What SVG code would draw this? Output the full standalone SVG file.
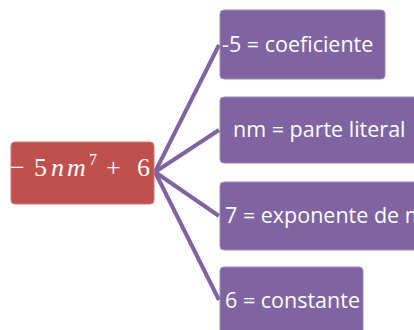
<svg xmlns="http://www.w3.org/2000/svg" width="414" height="330" viewBox="0 0 414 330">
<style>
.p{fill:#8064A2;stroke:#9D88B9;stroke-width:1}
.t{fill:#fff;font-family:"Open Sans","Liberation Sans",sans-serif;font-size:21.5px}
.c{stroke:#8064A2;stroke-width:4;fill:none;stroke-linecap:butt}
.m{fill:#fff;font-family:"Liberation Serif","DejaVu Serif",serif;font-size:26px}
</style>
<rect width="414" height="330" fill="#fff"/>
<g id="connectors">
<line class="c" x1="155" y1="172" x2="219" y2="45"/>
<line class="c" x1="155" y1="172" x2="219" y2="130"/>
<line class="c" x1="155" y1="172" x2="219" y2="216"/>
<line class="c" x1="155" y1="172" x2="219" y2="300"/>
</g>
<g id="root">
<rect x="11" y="142" width="143" height="62" rx="4" fill="#C0504D" stroke="#CD7775" stroke-width="1"/>
<text class="m" y="176"><tspan x="10">−</tspan><tspan x="34">5</tspan><tspan x="51" font-style="italic">n</tspan><tspan x="67" font-style="italic">m</tspan><tspan x="89" y="165" font-size="16">7</tspan><tspan x="106" y="176">+</tspan><tspan x="137">6</tspan></text>
</g>
<g id="n1">
<rect class="p" x="220" y="10" width="165" height="69" rx="4"/>
<text class="t" x="222" y="52">-5 = coeficiente</text>
</g>
<g id="n2">
<rect class="p" x="220" y="97" width="200" height="66" rx="4"/>
<text class="t" x="233" y="137">nm = parte literal</text>
</g>
<g id="n3">
<rect class="p" x="220" y="182" width="200" height="68" rx="4"/>
<text class="t" x="225" y="223">7 = exponente de m</text>
</g>
<g id="n4">
<rect class="p" x="220" y="267" width="143" height="70" rx="4"/>
<text class="t" x="225" y="308">6 = constante</text>
</g>
</svg>
